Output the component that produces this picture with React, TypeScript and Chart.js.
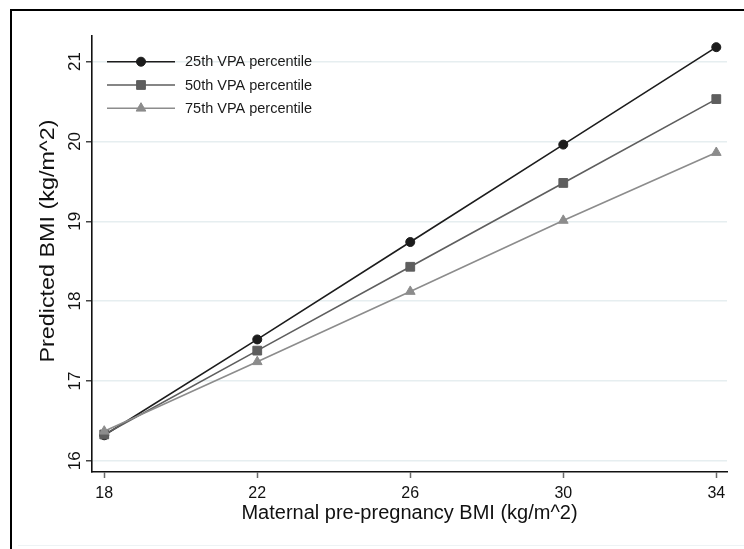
import React, { useEffect, useRef } from "react";
import { Chart, registerables } from "chart.js";

Chart.register(...registerables);

// Maternal pre-pregnancy BMI values (x) and predicted child BMI per VPA percentile
const maternalBmi = [18, 22, 26, 30, 34];
const vpa25 = [16.32, 17.52, 18.74, 19.96, 21.18];
const vpa50 = [16.33, 17.38, 18.43, 19.48, 20.53];
const vpa75 = [16.37, 17.24, 18.12, 19.01, 19.86];
const yTickValues = [16, 17, 18, 19, 20, 21];
const seriesLabels = ["25th VPA percentile", "50th VPA percentile", "75th VPA percentile"];
const yTitle = "Predicted BMI (kg/m^2)";
const xTitle = "Maternal pre-pregnancy BMI (kg/m^2)";

const FONT = "'Liberation Sans', Arial, Helvetica, sans-serif";

const seriesStyles = [
  { color: "#1c1c1c", pointStyle: "circle", radius: 4.5 },
  { color: "#5e5e5e", pointStyle: "rect", radius: 6.2 },
  { color: "#8c8c8c", pointStyle: "triangle", radius: 5.6 },
];

function drawMarker(ctx: CanvasRenderingContext2D, style: string, r: number, x: number, y: number, color: string) {
  ctx.save();
  ctx.fillStyle = color;
  ctx.strokeStyle = color;
  ctx.lineWidth = 1;
  ctx.beginPath();
  if (style === "circle") {
    ctx.arc(x, y, r, 0, Math.PI * 2);
  } else if (style === "rect") {
    const s = r * Math.SQRT1_2;
    ctx.rect(x - s, y - s, 2 * s, 2 * s);
  } else {
    const a = (Math.PI * 2) / 3;
    ctx.moveTo(x, y - r);
    ctx.lineTo(x + Math.sin(a) * r, y - Math.cos(a) * r);
    ctx.lineTo(x - Math.sin(a) * r, y - Math.cos(a) * r);
    ctx.closePath();
  }
  ctx.fill();
  ctx.stroke();
  ctx.restore();
}

// Legend drawn inside the plot: a line segment with its marker, then the label
const insideLegend = {
  id: "insideLegend",
  afterDatasetsDraw(chart: any) {
    const ctx = chart.ctx;
    const rows = [61.7, 85, 108.3];
    ctx.save();
    chart.data.datasets.forEach((ds: any, i: number) => {
      const y = rows[i];
      const st = seriesStyles[i];
      ctx.strokeStyle = st.color;
      ctx.lineWidth = 1.6;
      ctx.beginPath();
      ctx.moveTo(107, y);
      ctx.lineTo(175, y);
      ctx.stroke();
      drawMarker(ctx, st.pointStyle, st.radius, 141, y, st.color);
      ctx.fillStyle = "#1a1a1a";
      ctx.font = `14.5px ${FONT}`;
      ctx.textAlign = "left";
      ctx.textBaseline = "middle";
      ctx.fillText(ds.label, 185, y + 0.5);
    });
    ctx.restore();
  },
};

// Vertical axis title, rotated and slightly widened along its reading direction
const yAxisTitle = {
  id: "yAxisTitle",
  afterDraw(chart: any) {
    const ctx = chart.ctx;
    ctx.save();
    ctx.translate(48, 241);
    ctx.rotate(-Math.PI / 2);
    ctx.font = `20px ${FONT}`;
    const w = ctx.measureText(yTitle).width;
    ctx.scale(243 / w, 1);
    ctx.fillStyle = "#111";
    ctx.textAlign = "center";
    ctx.textBaseline = "middle";
    ctx.fillText(yTitle, 0, 0);
    ctx.restore();
  },
};

export default function App() {
  const canvasRef = useRef<HTMLCanvasElement | null>(null);

  useEffect(() => {
    if (!canvasRef.current) return;
    const seriesValues = [vpa25, vpa50, vpa75];
    const chart = new Chart(canvasRef.current, {
      type: "line",
      data: {
        datasets: seriesValues.map((vals, i) => ({
          label: seriesLabels[i],
          data: vals.map((v, j) => ({ x: maternalBmi[j], y: v })),
          borderColor: seriesStyles[i].color,
          backgroundColor: seriesStyles[i].color,
          pointBackgroundColor: seriesStyles[i].color,
          pointBorderColor: seriesStyles[i].color,
          pointStyle: seriesStyles[i].pointStyle as any,
          pointRadius: seriesStyles[i].radius,
          pointBorderWidth: 1,
          borderWidth: 1.6,
          tension: 0,
          fill: false,
          order: 3 - i,
        })),
      },
      options: {
        animation: false,
        responsive: false,
        maintainAspectRatio: false,
        layout: { padding: { left: 0, top: 36, right: 17, bottom: 0 } },
        plugins: {
          legend: { display: false },
          tooltip: { enabled: false },
        },
        scales: {
          x: {
            type: "linear",
            min: 17.68,
            max: 34.28,
            afterBuildTicks: (scale: any) => {
              scale.ticks = maternalBmi.map((v) => ({ value: v }));
            },
            afterFit: (scale: any) => {
              scale.height = 77;
            },
            grid: {
              drawOnChartArea: false,
              drawTicks: true,
              tickLength: 6,
              tickColor: "#6a6a6a",
              tickWidth: 1.5,
            },
            border: { display: true, color: "#111", width: 1.6 },
            ticks: {
              color: "#111",
              padding: 6,
              font: { family: FONT, size: 16 },
              maxRotation: 0,
              minRotation: 0,
            },
            title: {
              display: true,
              text: xTitle,
              color: "#111",
              font: { family: FONT, size: 20 },
              padding: { top: 24, bottom: 24 },
            },
          },
          y: {
            type: "linear",
            min: 15.86,
            max: 21.32,
            afterBuildTicks: (scale: any) => {
              scale.ticks = yTickValues.map((v) => ({ value: v }));
            },
            afterFit: (scale: any) => {
              scale.width = 92;
            },
            grid: {
              color: "#e6eef0",
              lineWidth: 1.5,
              drawTicks: true,
              tickLength: 6,
              tickColor: "#444",
              tickWidth: 1.5,
            },
            border: { display: true, color: "#111", width: 1.6 },
            ticks: {
              color: "#111",
              padding: 1,
              minRotation: 90,
              maxRotation: 90,
              crossAlign: "center",
              font: { family: FONT, size: 17 },
            },
            title: { display: false },
          },
        },
      } as any,
      plugins: [insideLegend, yAxisTitle],
    });
    return () => chart.destroy();
  }, []);

  return (
    <div style={{ position: "absolute", left: 0, top: 0, width: 744, height: 549, background: "#fff", overflow: "hidden" }}>
      <div
        style={{
          position: "absolute",
          left: 10,
          top: 9,
          width: 760,
          height: 560,
          borderLeft: "2px solid #000",
          borderTop: "2px solid #000",
        }}
      />
      <div style={{ position: "absolute", left: 18, top: 545, width: 726, height: 1, background: "#eef3f5" }} />
      <canvas ref={canvasRef} width={744} height={549} style={{ position: "absolute", left: 0, top: 0 }} />
    </div>
  );
}
